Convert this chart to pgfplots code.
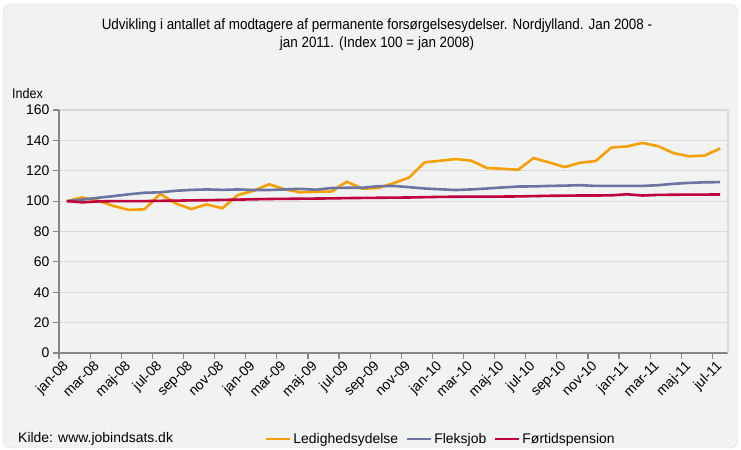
\documentclass[border=0pt]{standalone}
\usepackage{pgfplots}
\pgfplotsset{compat=1.18}
\usepackage{fontspec}
\setmainfont{Liberation Sans}
\definecolor{bgc}{HTML}{F1F2F2}
\definecolor{gridc}{HTML}{D9D9D9}
\definecolor{axc}{HTML}{868686}
\definecolor{cOrange}{HTML}{F5A000}
\definecolor{cBlue}{HTML}{6B74A3}
\definecolor{cRed}{HTML}{C0003A}
\begin{document}
\begin{tikzpicture}
\path[use as bounding box] (-59bp,-97bp) rectangle (682bp,353bp);
\fill[bgc, draw=gridc, rounded corners=8bp] (-56bp,-95bp) rectangle (679bp,349bp);
\node[anchor=base, font=\fontsize{15}{16}\selectfont] at (318bp,323bp) {\scalebox{0.9}[1]{Udvikling i antallet af modtagere af permanente forsørgelsesydelser. Nordjylland. Jan 2008 -}};
\node[anchor=base, font=\fontsize{15}{16}\selectfont] at (318bp,305bp) {\scalebox{0.9}[1]{jan 2011. (Index 100 = jan 2008)}};
\node[anchor=base west, inner sep=0pt, font=\fontsize{14}{16}\selectfont] at (-47bp,254bp) {\scalebox{0.9}[1]{Index}};
\node[anchor=west, inner sep=0pt, font=\fontsize{14}{16}\selectfont] at (-41bp,-86bp) {Kilde: www.jobindsats.dk};
\begin{axis}[
  at={(0,0)}, anchor=south west,
  scale only axis, width=669bp, height=243bp,
  xmin=-0.5, xmax=42.5, ymin=0, ymax=160,
  ytick={0,20,...,160},
  xtick={-0.5,1.5,...,41.5},
  xticklabels={jan-08,mar-08,maj-08,jul-08,sep-08,nov-08,jan-09,mar-09,maj-09,jul-09,sep-09,nov-09,jan-10,mar-10,maj-10,jul-10,sep-10,nov-10,jan-11,mar-11,maj-11,jul-11},
  xticklabel style={rotate=45, anchor=north east, xshift=5bp, yshift=1bp},
  axis lines*=left,
  axis line style={axc, line width=1.5bp, -},
  tick style={axc, line width=1.2bp},
  tick align=outside, major tick length=6bp,
  ymajorgrids, grid style={gridc, line width=1.2bp},
  /pgf/number format/assume math mode=true,
  tick label style={font=\fontsize{14}{16}\selectfont},
  legend style={at={(axis description cs:0.571,-0.354)}, anchor=center, draw=none, fill=none,
    legend columns=3, font=\fontsize{14}{16}\selectfont,
    /tikz/every even column/.append style={column sep=6bp}},
  legend cell align=left,
  legend image code/.code={\draw[#1, line width=2.2bp] (0bp,0bp) -- (24bp,0bp);},
  every axis plot/.append style={line width=2.6bp, line join=round},
  after end axis/.code={\draw[gridc, line width=1.2bp] (rel axis cs:1,0) -- (rel axis cs:1,1);},
]
\addplot[cOrange] coordinates {
(0,100) (1,102.4) (2,100.3) (3,96.8) (4,94.2) (5,94.6) (6,104.8) (7,98.5) (8,94.8) (9,97.8)
(10,95.3) (11,104) (12,106.8) (13,111.1) (14,107.8) (15,105.8) (16,106.2) (17,106.3) (18,112.8) (19,108.2)
(20,108.6) (21,111.8) (22,115.5) (23,125.5) (24,126.6) (25,127.7) (26,126.6) (27,121.8) (28,121.3) (29,120.6)
(30,128.3) (31,125.5) (32,122.4) (33,125.3) (34,126.4) (35,135.3) (36,136) (37,138.3) (38,136.2) (39,131.6)
(40,129.5) (41,130) (42,134.7)};
\addlegendentry{Ledighedsydelse}
\addplot[cBlue] coordinates {
(0,100) (1,101) (2,102.2) (3,103.3) (4,104.5) (5,105.5) (6,105.8) (7,106.8) (8,107.4) (9,107.7)
(10,107.4) (11,107.7) (12,107.3) (13,107.3) (14,107.7) (15,108.1) (16,107.5) (17,108.6) (18,108.8) (19,108.8)
(20,109.8) (21,110) (22,109.2) (23,108.3) (24,107.8) (25,107.3) (26,107.7) (27,108.3) (28,109) (29,109.6)
(30,109.7) (31,110) (32,110.2) (33,110.5) (34,110) (35,110) (36,110) (37,110) (38,110.5) (39,111.4)
(40,112) (41,112.4) (42,112.5)};
\addlegendentry{Fleksjob}
\addplot[cRed] coordinates {
(0,100) (1,99.2) (2,99.8) (3,100) (4,100) (5,100) (6,100.2) (7,100.3) (8,100.5) (9,100.6)
(10,100.8) (11,101) (12,101.2) (13,101.4) (14,101.5) (15,101.6) (16,101.7) (17,101.8) (18,102) (19,102.1)
(20,102.2) (21,102.3) (22,102.4) (23,102.6) (24,102.8) (25,102.9) (26,103) (27,103) (28,103) (29,103.1)
(30,103.3) (31,103.5) (32,103.6) (33,103.7) (34,103.7) (35,103.8) (36,104.5) (37,103.7) (38,104.1) (39,104.2)
(40,104.3) (41,104.3) (42,104.4)};
\addlegendentry{Førtidspension}
\end{axis}
\end{tikzpicture}
\end{document}
